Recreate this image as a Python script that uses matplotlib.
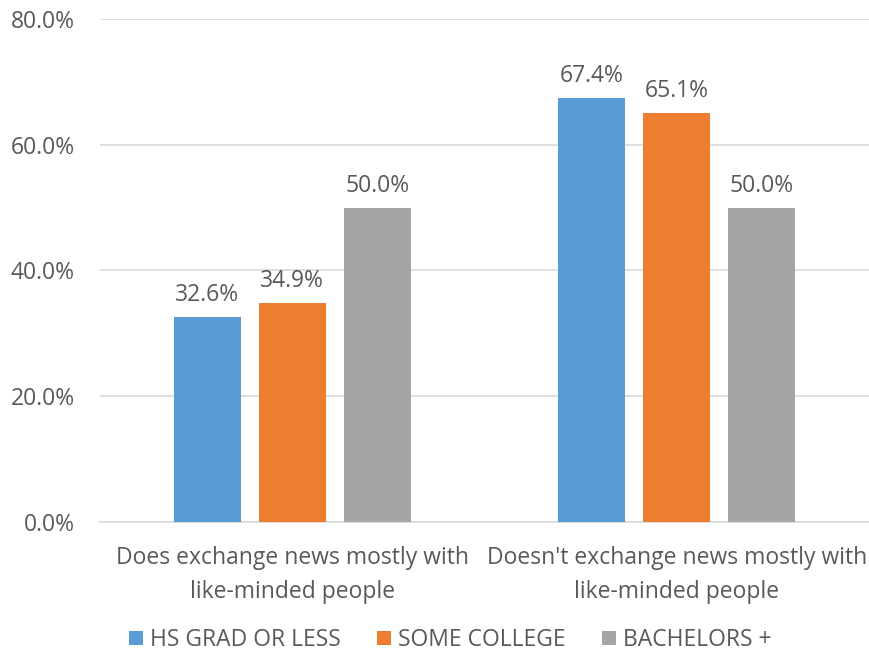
import numpy as np
import matplotlib.pyplot as plt
from matplotlib.ticker import PercentFormatter

categories = ["Does exchange news mostly with\nlike-minded people",
              "Doesn't exchange news mostly with\nlike-minded people"]
series = ["HS GRAD OR LESS", "SOME COLLEGE", "BACHELORS +"]
hs_grad = [32.6, 67.4]
some_college = [34.9, 65.1]
bachelors = [50.0, 50.0]
colors = ["#5B9BD5", "#ED7D31", "#A5A5A5"]

plt.rcParams['font.family'] = ['Open Sans', 'DejaVu Sans']
txt = "#595959"
fs = 16.5

fig = plt.figure(figsize=(8.69, 6.52), dpi=100)
ax = fig.add_axes([0.115, 0.1994, 0.885, 0.7715])

x = np.arange(len(categories))
w = 0.174
step = 0.221
for i, (name, vals) in enumerate(zip(series, [hs_grad, some_college, bachelors])):
    bars = ax.bar(x + (i - 1) * step, vals, w, color=colors[i], label=name, zorder=3)
    for b, v in zip(bars, vals):
        ax.annotate(f"{v:.1f}%", (b.get_x() + b.get_width() / 2, v),
                    xytext=(0, 7), textcoords="offset points",
                    ha="center", va="bottom", fontsize=fs, color=txt)

ax.set_xlim(-0.5, 1.5)
ax.set_ylim(0, 80)
ax.set_yticks(np.arange(0, 81, 20))
ax.yaxis.set_major_formatter(PercentFormatter(decimals=1))
ax.set_xticks(x)
ax.set_xticklabels(categories, fontsize=fs, color=txt, linespacing=1.6)
ax.tick_params(axis="y", labelsize=fs, labelcolor=txt, length=0, pad=18)
ax.tick_params(axis="x", length=0, pad=17)
ax.grid(axis="y", color="#D9D9D9", linewidth=1.2, zorder=0)
for s in ["top", "right", "left"]:
    ax.spines[s].set_visible(False)
ax.spines["bottom"].set_color("#D9D9D9")
ax.spines["bottom"].set_linewidth(1.2)

fig.legend(loc="lower center", bbox_to_anchor=(0.518, -0.032), ncol=3, frameon=False,
           fontsize=fs, labelcolor=txt, handlelength=0.6, handleheight=0.6,
           handletextpad=0.3, columnspacing=1.6)

fig.savefig("out.png", dpi=100)
